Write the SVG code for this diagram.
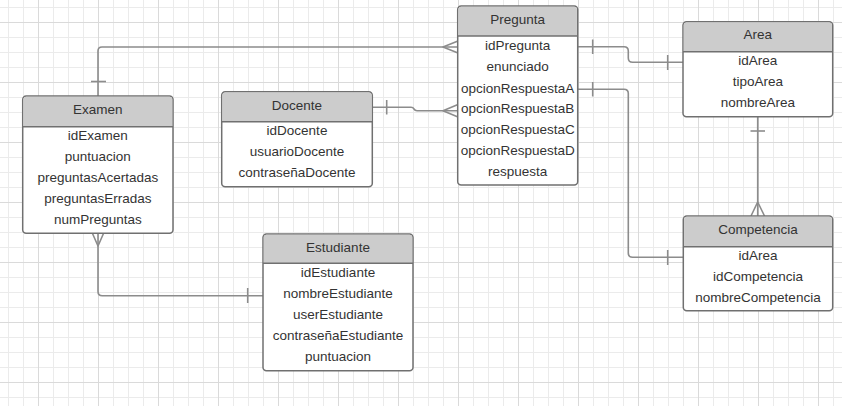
<svg xmlns="http://www.w3.org/2000/svg" width="842" height="406" viewBox="0 0 842 406">
<defs>
<pattern id="minor" x="8" y="7" width="15" height="15" patternUnits="userSpaceOnUse">
<path d="M0.5 0V15M0 0.5H15" stroke="#ebebeb" stroke-width="1" fill="none"/>
</pattern>
<pattern id="major" x="38" y="22" width="60" height="60" patternUnits="userSpaceOnUse">
<path d="M0.5 0V60M0 0.5H60" stroke="#dadada" stroke-width="1" fill="none"/>
</pattern>
<style>
.box{fill:#ffffff;stroke:#707070;stroke-width:1.5}
.hdr{fill:#cccccc}
.sep{stroke:#707070;stroke-width:1.5}
.t{font-family:"Liberation Sans",Arial,sans-serif;font-size:13.5px;fill:#333333;text-anchor:middle}
.c{fill:none;stroke:#8c8c8c;stroke-width:1.6;stroke-linejoin:round}
</style>
</defs>
<rect width="842" height="406" fill="#ffffff"/>
<rect width="842" height="406" fill="url(#minor)"/>
<rect width="842" height="406" fill="url(#major)"/>

<g id="connectors">
<!-- Examen - Pregunta -->
<path class="c" d="M98 96V51Q98 47 102 47H458"/>
<path class="c" d="M91 81.5H106"/>
<path class="c" d="M458 41L443 47L458 53"/>
<!-- Docente - Pregunta -->
<path class="c" d="M372 107.3H411Q413 107.3 414 109Q415 110.7 417 110.7H458"/>
<path class="c" d="M386.7 100V114.5"/>
<path class="c" d="M458 104.5L443 110.7L458 117"/>
<!-- Pregunta - Area -->
<path class="c" d="M577 46.7H624Q628.3 46.7 628.3 51V58Q628.3 62.3 632.6 62.3H683"/>
<path class="c" d="M592.7 39.5V54"/>
<path class="c" d="M667.7 55V70"/>
<!-- Pregunta - Competencia -->
<path class="c" d="M577 89.3H624Q628.3 89.3 628.3 93.6V253Q628.3 257.3 632.6 257.3H683"/>
<path class="c" d="M592.7 82V96.5"/>
<path class="c" d="M667.7 250V265"/>
<!-- Area - Competencia -->
<path class="c" d="M757.7 116.7V216"/>
<path class="c" d="M750.5 131H765"/>
<path class="c" d="M751 216L757.7 202L764.5 216"/>
<!-- Examen - Estudiante -->
<path class="c" d="M98 233.3V291.5Q98 295.7 102.2 295.7H263"/>
<path class="c" d="M247.7 288V303"/>
<path class="c" d="M92.5 233.5L98 246L103.5 233.5"/>
</g>

<g id="Pregunta">
<rect class="box" x="457.7" y="6" width="120" height="179" rx="3.5"/>
<path class="hdr" d="M461.2 6.75H574.2Q576.95 6.75 576.95 9.5V36H458.45V9.5Q458.45 6.75 461.2 6.75Z"/>
<path class="sep" d="M457.7 36H577.7"/>
<text class="t" x="517.7" y="24">Pregunta</text>
<text class="t" x="517.7" y="49.5">idPregunta</text>
<text class="t" x="517.7" y="71">enunciado</text>
<text class="t" x="517.7" y="92.5">opcionRespuestaA</text>
<text class="t" x="517.7" y="113">opcionRespuestaB</text>
<text class="t" x="517.7" y="133.5">opcionRespuestaC</text>
<text class="t" x="517.7" y="154.5">opcionRespuestaD</text>
<text class="t" x="517.7" y="176">respuesta</text>
</g>

<g id="Examen">
<rect class="box" x="22.7" y="96" width="150.3" height="137.3" rx="3.5"/>
<path class="hdr" d="M26.2 96.75H169.5Q172.25 96.75 172.25 99.5V126.7H23.45V99.5Q23.45 96.75 26.2 96.75Z"/>
<path class="sep" d="M22.7 126.7H173"/>
<text class="t" x="97.8" y="114">Examen</text>
<text class="t" x="97.8" y="139.7">idExamen</text>
<text class="t" x="97.8" y="161">puntuacion</text>
<text class="t" x="97.8" y="181.7">preguntasAcertadas</text>
<text class="t" x="97.8" y="202.5">preguntasErradas</text>
<text class="t" x="97.8" y="223.5">numPreguntas</text>
</g>

<g id="Docente">
<rect class="box" x="221.7" y="91.7" width="150.6" height="95" rx="3.5"/>
<path class="hdr" d="M225.2 92.45H368.8Q371.55 92.45 371.55 95.2V121.7H222.45V95.2Q222.45 92.45 225.2 92.45Z"/>
<path class="sep" d="M221.7 121.7H372.3"/>
<text class="t" x="297" y="109.5">Docente</text>
<text class="t" x="297" y="135">idDocente</text>
<text class="t" x="297" y="155.5">usuarioDocente</text>
<text class="t" x="297" y="176.7">contraseñaDocente</text>
</g>

<g id="Estudiante">
<rect class="box" x="263" y="234" width="150" height="136.7" rx="3.5"/>
<path class="hdr" d="M266.5 234.75H409.5Q412.25 234.75 412.25 237.5V263.3H263.75V237.5Q263.75 234.75 266.5 234.75Z"/>
<path class="sep" d="M263 263.3H413"/>
<text class="t" x="338" y="251.8">Estudiante</text>
<text class="t" x="338" y="277">idEstudiante</text>
<text class="t" x="338" y="297.7">nombreEstudiante</text>
<text class="t" x="338" y="319.3">userEstudiante</text>
<text class="t" x="338" y="339.7">contraseñaEstudiante</text>
<text class="t" x="338" y="361">puntuacion</text>
</g>

<g id="Area">
<rect class="box" x="683" y="21.7" width="149.7" height="95" rx="3.5"/>
<path class="hdr" d="M686.5 22.45H829.2Q831.95 22.45 831.95 25.2V51.7H683.75V25.2Q683.75 22.45 686.5 22.45Z"/>
<path class="sep" d="M683 51.7H832.7"/>
<text class="t" x="757.8" y="38.8">Area</text>
<text class="t" x="757.8" y="65.3">idArea</text>
<text class="t" x="757.8" y="86">tipoArea</text>
<text class="t" x="757.8" y="106.7">nombreArea</text>
</g>

<g id="Competencia">
<rect class="box" x="683.3" y="216" width="149.4" height="94.7" rx="3.5"/>
<path class="hdr" d="M686.8 216.75H829.2Q831.95 216.75 831.95 219.5V246.7H684.05V219.5Q684.05 216.75 686.8 216.75Z"/>
<path class="sep" d="M683.3 246.7H832.7"/>
<text class="t" x="758" y="233.7">Competencia</text>
<text class="t" x="758" y="260">idArea</text>
<text class="t" x="758" y="281">idCompetencia</text>
<text class="t" x="758" y="301.7">nombreCompetencia</text>
</g>
</svg>
